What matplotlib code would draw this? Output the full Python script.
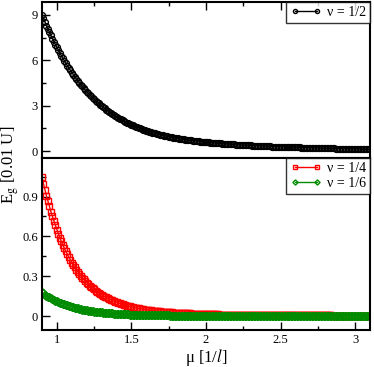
import matplotlib
matplotlib.use("Agg")
import matplotlib.pyplot as plt
from matplotlib.ticker import MultipleLocator, FormatStrFormatter

plt.rcParams['font.family'] = ['Liberation Serif', 'DejaVu Serif']
plt.rcParams['mathtext.fontset'] = 'stix'

# mu grid, 0.90 .. 3.10 in steps of 0.01 (one row = 0.1)
mu = [0.90, 0.91, 0.92, 0.93, 0.94, 0.95, 0.96, 0.97, 0.98, 0.99,
      1.00, 1.01, 1.02, 1.03, 1.04, 1.05, 1.06, 1.07, 1.08, 1.09,
      1.10, 1.11, 1.12, 1.13, 1.14, 1.15, 1.16, 1.17, 1.18, 1.19,
      1.20, 1.21, 1.22, 1.23, 1.24, 1.25, 1.26, 1.27, 1.28, 1.29,
      1.30, 1.31, 1.32, 1.33, 1.34, 1.35, 1.36, 1.37, 1.38, 1.39,
      1.40, 1.41, 1.42, 1.43, 1.44, 1.45, 1.46, 1.47, 1.48, 1.49,
      1.50, 1.51, 1.52, 1.53, 1.54, 1.55, 1.56, 1.57, 1.58, 1.59,
      1.60, 1.61, 1.62, 1.63, 1.64, 1.65, 1.66, 1.67, 1.68, 1.69,
      1.70, 1.71, 1.72, 1.73, 1.74, 1.75, 1.76, 1.77, 1.78, 1.79,
      1.80, 1.81, 1.82, 1.83, 1.84, 1.85, 1.86, 1.87, 1.88, 1.89,
      1.90, 1.91, 1.92, 1.93, 1.94, 1.95, 1.96, 1.97, 1.98, 1.99,
      2.00, 2.01, 2.02, 2.03, 2.04, 2.05, 2.06, 2.07, 2.08, 2.09,
      2.10, 2.11, 2.12, 2.13, 2.14, 2.15, 2.16, 2.17, 2.18, 2.19,
      2.20, 2.21, 2.22, 2.23, 2.24, 2.25, 2.26, 2.27, 2.28, 2.29,
      2.30, 2.31, 2.32, 2.33, 2.34, 2.35, 2.36, 2.37, 2.38, 2.39,
      2.40, 2.41, 2.42, 2.43, 2.44, 2.45, 2.46, 2.47, 2.48, 2.49,
      2.50, 2.51, 2.52, 2.53, 2.54, 2.55, 2.56, 2.57, 2.58, 2.59,
      2.60, 2.61, 2.62, 2.63, 2.64, 2.65, 2.66, 2.67, 2.68, 2.69,
      2.70, 2.71, 2.72, 2.73, 2.74, 2.75, 2.76, 2.77, 2.78, 2.79,
      2.80, 2.81, 2.82, 2.83, 2.84, 2.85, 2.86, 2.87, 2.88, 2.89,
      2.90, 2.91, 2.92, 2.93, 2.94, 2.95, 2.96, 2.97, 2.98, 2.99,
      3.00, 3.01, 3.02, 3.03, 3.04, 3.05, 3.06, 3.07, 3.08, 3.09,
      3.10]

# nu = 1/2 (top panel), units of 0.01 U
eg_half = [9.00, 8.76, 8.52, 8.29, 8.07, 7.85, 7.64, 7.43, 7.23, 7.04,
           6.85, 6.66, 6.48, 6.30, 6.13, 5.96, 5.80, 5.64, 5.49, 5.34,
           5.19, 5.05, 4.91, 4.77, 4.64, 4.51, 4.39, 4.27, 4.15, 4.04,
           3.93, 3.82, 3.72, 3.62, 3.52, 3.42, 3.33, 3.24, 3.15, 3.06,
           2.98, 2.90, 2.82, 2.74, 2.67, 2.60, 2.53, 2.46, 2.40, 2.33,
           2.27, 2.21, 2.15, 2.09, 2.04, 1.98, 1.93, 1.88, 1.83, 1.78,
           1.74, 1.69, 1.65, 1.61, 1.57, 1.53, 1.49, 1.45, 1.42, 1.38,
           1.35, 1.31, 1.28, 1.25, 1.22, 1.19, 1.16, 1.13, 1.11, 1.08,
           1.06, 1.03, 1.01, 0.99, 0.97, 0.95, 0.93, 0.91, 0.89, 0.87,
           0.85, 0.83, 0.82, 0.80, 0.79, 0.77, 0.76, 0.74, 0.73, 0.71,
           0.70, 0.69, 0.68, 0.66, 0.65, 0.64, 0.63, 0.62, 0.61, 0.60,
           0.59, 0.58, 0.57, 0.56, 0.55, 0.54, 0.53, 0.52, 0.51, 0.505,
           0.50, 0.49, 0.48, 0.475, 0.47, 0.46, 0.45, 0.445, 0.44, 0.435,
           0.43, 0.42, 0.41, 0.405, 0.40, 0.395, 0.39, 0.385, 0.38, 0.375,
           0.37, 0.365, 0.36, 0.355, 0.35, 0.345, 0.34, 0.335, 0.33, 0.325,
           0.32, 0.315, 0.31, 0.305, 0.30, 0.298, 0.295, 0.292, 0.29, 0.285,
           0.28, 0.275, 0.27, 0.267, 0.265, 0.262, 0.26, 0.255, 0.25, 0.247,
           0.245, 0.242, 0.24, 0.235, 0.23, 0.227, 0.225, 0.222, 0.22, 0.215,
           0.21, 0.207, 0.205, 0.202, 0.20, 0.197, 0.195, 0.192, 0.19, 0.187,
           0.185, 0.182, 0.18, 0.177, 0.175, 0.172, 0.17, 0.167, 0.165, 0.162,
           0.16, 0.157, 0.155, 0.152, 0.15, 0.147, 0.145, 0.142, 0.14, 0.137,
           0.135, 0.132, 0.13, 0.127, 0.125, 0.122, 0.12, 0.117, 0.115, 0.112,
           0.11]

# nu = 1/4
eg_quarter = [1.045, 0.995, 0.95, 0.905, 0.865, 0.825, 0.785, 0.75, 0.715, 0.682,
              0.65, 0.62, 0.59, 0.562, 0.535, 0.51, 0.487, 0.465, 0.443, 0.423,
              0.403, 0.385, 0.367, 0.35, 0.334, 0.319, 0.304, 0.29, 0.277, 0.264,
              0.252, 0.241, 0.230, 0.22, 0.210, 0.201, 0.192, 0.183, 0.175, 0.167,
              0.160, 0.153, 0.146, 0.14, 0.134, 0.128, 0.123, 0.118, 0.113, 0.108,
              0.104, 0.10, 0.096, 0.092, 0.088, 0.084, 0.081, 0.078, 0.075, 0.072,
              0.069, 0.066, 0.064, 0.061, 0.059, 0.057, 0.055, 0.053, 0.051, 0.049,
              0.047, 0.045, 0.044, 0.042, 0.041, 0.039, 0.038, 0.037, 0.036, 0.035,
              0.034, 0.033, 0.032, 0.031, 0.030, 0.029, 0.028, 0.027, 0.026, 0.0255,
              0.025, 0.024, 0.023, 0.0225, 0.022, 0.0215, 0.021, 0.0205, 0.020, 0.0195,
              0.019, 0.0185, 0.018, 0.0175, 0.017, 0.0165, 0.016, 0.0155, 0.015, 0.0148,
              0.0145, 0.0142, 0.014, 0.0135, 0.013, 0.0127, 0.0125, 0.0122, 0.012, 0.0117,
              0.0115, 0.0112, 0.011, 0.0107, 0.0105, 0.0102, 0.010, 0.0098, 0.0097, 0.0095,
              0.0094, 0.0092, 0.0091, 0.0089, 0.0088, 0.0086, 0.0085, 0.0083, 0.0082, 0.0080,
              0.0079, 0.0077, 0.0076, 0.0075, 0.0074, 0.0073, 0.0072, 0.0071, 0.0070, 0.0069,
              0.0068, 0.0067, 0.0066, 0.0065, 0.0064, 0.0063, 0.0063, 0.0062, 0.0061, 0.0060,
              0.0060, 0.0059, 0.0058, 0.0057, 0.0057, 0.0056, 0.0056, 0.0055, 0.0054, 0.0053,
              0.0053, 0.0052, 0.0052, 0.0051, 0.0051, 0.0050, 0.0050, 0.0049, 0.0049, 0.0048,
              0.0048, 0.0047, 0.0047, 0.0046, 0.0046, 0.0045, 0.0045, 0.0044, 0.0044, 0.0043,
              0.0043, 0.0042, 0.0042, 0.0042, 0.0042, 0.0041, 0.0041, 0.0040, 0.0040, 0.0039,
              0.0039, 0.0039, 0.0039, 0.0038, 0.0038, 0.0037, 0.0037, 0.0037, 0.0037, 0.0036,
              0.0036, 0.0035, 0.0035, 0.0035, 0.0035, 0.0034, 0.0034, 0.0034, 0.0034, 0.0033,
              0.0033]

# nu = 1/6
eg_sixth = [0.178, 0.170, 0.162, 0.154, 0.147, 0.140, 0.134, 0.128, 0.122, 0.116,
            0.111, 0.106, 0.101, 0.096, 0.092, 0.088, 0.084, 0.080, 0.076, 0.072,
            0.069, 0.066, 0.063, 0.060, 0.057, 0.054, 0.052, 0.049, 0.047, 0.045,
            0.043, 0.041, 0.039, 0.037, 0.036, 0.034, 0.033, 0.031, 0.030, 0.028,
            0.027, 0.026, 0.025, 0.024, 0.023, 0.022, 0.021, 0.020, 0.019, 0.018,
            0.017, 0.0165, 0.016, 0.0155, 0.015, 0.014, 0.013, 0.0125, 0.012, 0.0115,
            0.011, 0.0105, 0.010, 0.0097, 0.0095, 0.0091, 0.0088, 0.0084, 0.0081, 0.0078,
            0.0075, 0.0072, 0.0069, 0.0066, 0.0064, 0.0061, 0.0059, 0.0057, 0.0055, 0.0053,
            0.0051, 0.0049, 0.0047, 0.0045, 0.0044, 0.0042, 0.0041, 0.0039, 0.0038, 0.0036,
            0.0035, 0.0034, 0.0033, 0.0032, 0.0031, 0.0030, 0.0029, 0.0028, 0.0027, 0.0026,
            0.0025, 0.0024, 0.0023, 0.0022, 0.0022, 0.0021, 0.0020, 0.0019, 0.0019, 0.0018,
            0.0018, 0.0017, 0.0017, 0.0016, 0.0016, 0.0015, 0.0015, 0.0014, 0.0014, 0.0013,
            0.0013, 0.0013, 0.0013, 0.0012, 0.0012, 0.0011, 0.0011, 0.0011, 0.0011, 0.0010,
            0.0010, 0.0010, 0.0010, 0.0010, 0.0009, 0.0009, 0.0009, 0.0009, 0.0009, 0.0009,
            0.0009, 0.0008, 0.0008, 0.0008, 0.0008, 0.0008, 0.0008, 0.0008, 0.0008, 0.0008,
            0.0008, 0.0007, 0.0007, 0.0007, 0.0007, 0.0007, 0.0007, 0.0007, 0.0007, 0.0007,
            0.0007, 0.0007, 0.0007, 0.0007, 0.0007, 0.0007, 0.0007, 0.0007, 0.0007, 0.0007,
            0.0007, 0.0006, 0.0006, 0.0006, 0.0006, 0.0006, 0.0006, 0.0006, 0.0006, 0.0006,
            0.0006, 0.0006, 0.0006, 0.0006, 0.0006, 0.0006, 0.0006, 0.0006, 0.0006, 0.0006,
            0.0006, 0.0006, 0.0006, 0.0006, 0.0006, 0.0006, 0.0006, 0.0006, 0.0006, 0.0006,
            0.0006, 0.0006, 0.0006, 0.0005, 0.0005, 0.0005, 0.0005, 0.0005, 0.0005, 0.0005,
            0.0005, 0.0005, 0.0005, 0.0005, 0.0005, 0.0005, 0.0005, 0.0005, 0.0005, 0.0005,
            0.0005]

green = (0.0, 0.55, 0.0)

fig = plt.figure(figsize=(3.74, 3.67), dpi=100)
ax1 = fig.add_axes([42/374, 1-158/367, 328/374, 156/367])
ax2 = fig.add_axes([42/374, 1-330/367, 328/374, 172/367])

ms = 4.2
mew = 1.0
ax1.plot(mu, eg_half, color='black', lw=1, marker='o', ms=ms, mfc='none', mew=mew, label='ν = 1/2')
ax2.plot(mu, eg_quarter, color='red', lw=1, marker='s', ms=ms*0.95, mfc='none', mew=mew, label='ν = 1/4')
ax2.plot(mu, eg_sixth, color=green, lw=1, marker='D', ms=ms*0.9, mfc='none', mew=mew, label='ν = 1/6')

ax1.set_xlim(0.9, 3.1)
ax2.set_xlim(0.9, 3.1)
ax1.set_ylim(-0.46, 9.85)
ax2.set_ylim(-0.105, 1.19)

for ax in (ax1, ax2):
    for s in ax.spines.values():
        s.set_linewidth(1.5)
    ax.xaxis.set_major_locator(MultipleLocator(0.5))
    ax.xaxis.set_minor_locator(MultipleLocator(0.25))
    ax.tick_params(which='both', direction='in', labelsize=9, width=1, right=False, left=True, pad=3)
    ax.tick_params(which='major', length=6)
    ax.tick_params(which='minor', length=3)

ax1.yaxis.set_major_locator(MultipleLocator(3))
ax1.yaxis.set_minor_locator(MultipleLocator(1.5))
ax1.yaxis.set_major_formatter(FormatStrFormatter('%g'))
ax1.tick_params(axis='x', which='both', top=True, bottom=False, labelbottom=False)

ax2.yaxis.set_major_locator(MultipleLocator(0.3))
ax2.yaxis.set_minor_locator(MultipleLocator(0.15))
ax2.yaxis.set_major_formatter(FormatStrFormatter('%g'))
ax2.xaxis.set_major_formatter(FormatStrFormatter('%g'))
ax2.tick_params(axis='x', which='both', top=False, bottom=True, pad=3)

for ax in (ax1, ax2):
    leg = ax.legend(loc='upper right', numpoints=2, fontsize=10, frameon=True, fancybox=False,
                    borderaxespad=0, handlelength=2.2, handletextpad=0.4, markerscale=0.7,
                    borderpad=0.3, labelspacing=0.15)
    leg.get_frame().set_edgecolor('black')
    leg.get_frame().set_linewidth(1)

fig.text(10/374, 1-165/367, 'E$_\\mathrm{g}$ [0.01 U]', rotation=90, ha='center', va='center', fontsize=12)
fig.text(206/374, 1-357/367, 'μ [1/$l$]', ha='center', va='center', fontsize=12)

fig.savefig('out.png', dpi=100)
